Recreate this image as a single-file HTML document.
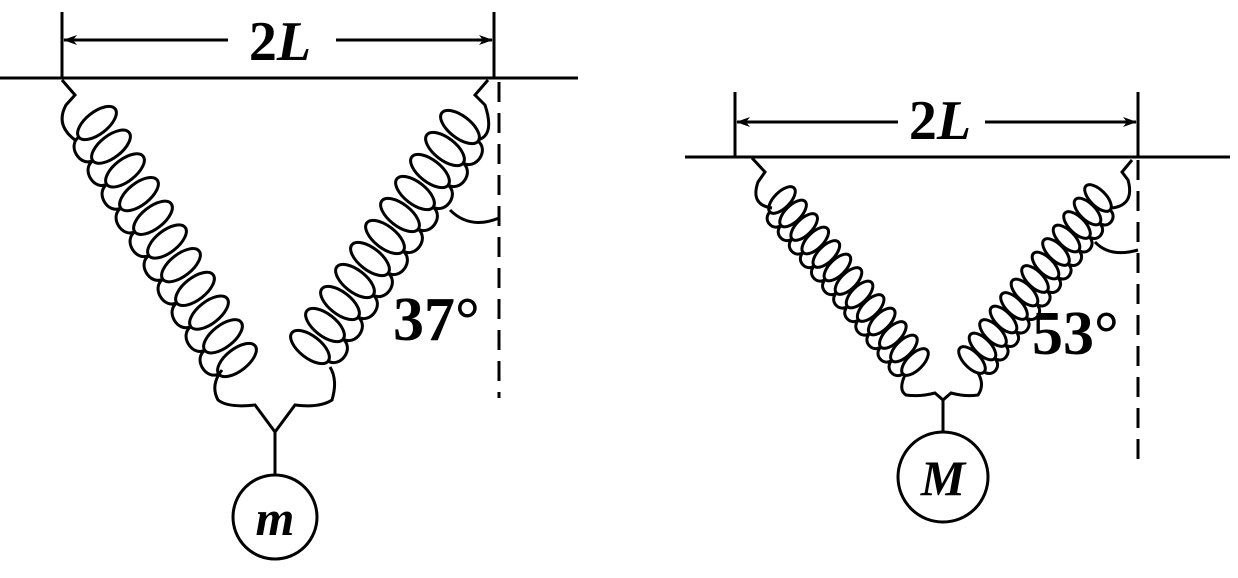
<!DOCTYPE html>
<html><head><style>body{margin:0;background:#fff}svg{display:block}</style></head><body>
<svg id="s" width="1238" height="578" viewBox="0 0 1238 578" xmlns="http://www.w3.org/2000/svg">
<defs><marker id="a" markerWidth="14" markerHeight="10" refX="13" refY="5" orient="auto" markerUnits="userSpaceOnUse"><path d="M0,0 L14,5 L0,10 L4,5Z" fill="#000"/></marker></defs>
<g stroke="#000" stroke-width="3" fill="none">
<line x1="0" y1="78" x2="578" y2="78"/>
<line x1="62" y1="12" x2="62" y2="78"/><line x1="494" y1="12" x2="494" y2="78"/>
<line x1="228" y1="40" x2="64" y2="40" marker-end="url(#a)"/><line x1="336" y1="40" x2="492" y2="40" marker-end="url(#a)"/>
<line x1="499" y1="82" x2="499" y2="398" stroke-dasharray="20,11"/>
<path d="M450,210 Q470,230 499,218"/>
<path d="M62,80 L75,95 L66,105 Q55,125 75,140"/>
<path d="M488,80 L475,95 L485,105 Q495,135 478,140"/>
<path d="M222,370 Q210,385 218,400 Q228,408 255,405 L275,432 L295,405 Q320,408 332,400 Q338,380 330,367"/>
<line x1="275" y1="432" x2="275" y2="475"/>
<circle cx="275" cy="517" r="42"/>
<line x1="685" y1="157" x2="1230" y2="157"/>
<line x1="735" y1="92" x2="735" y2="157"/><line x1="1138" y1="92" x2="1138" y2="157"/>
<line x1="898" y1="122" x2="737" y2="122" marker-end="url(#a)"/><line x1="985" y1="122" x2="1136" y2="122" marker-end="url(#a)"/>
<line x1="1138" y1="160" x2="1138" y2="468" stroke-dasharray="20,11"/>
<path d="M1095,242 Q1110,258 1138,250"/>
<path d="M752,158 L765,172 L758,182 Q750,205 772,208"/>
<path d="M1132,160 L1122,172 L1128,180 Q1135,205 1112,208"/>
<path d="M905,375 Q898,390 906,395 Q920,397 935,393 L943,400 L951,393 Q966,397 978,395 Q985,385 978,373"/>
<line x1="943" y1="400" x2="943" y2="432"/>
<circle cx="943" cy="477" r="45"/>
<g id="coils"></g>
</g>
<g font-family="Liberation Serif, serif" font-weight="bold" fill="#000">
<text x="280" y="60" font-size="56" text-anchor="middle">2<tspan font-style="italic">L</tspan></text>
<text x="940" y="139" font-size="56" text-anchor="middle">2<tspan font-style="italic">L</tspan></text>
<text x="393" y="340" font-size="62">37°</text>
<text x="1032" y="354" font-size="62">53°</text>
<text x="275" y="535" font-size="50" font-style="italic" text-anchor="middle">m</text>
<text x="943" y="495" font-size="50" font-style="italic" text-anchor="middle">M</text>
</g>
</svg>
<script>
var g=document.getElementById('coils'),ns='http://www.w3.org/2000/svg';
function spring(x1,y1,x2,y2,n,rx,ry,rot,side){var pts=[];var r=rot*Math.PI/180;
for(var i=0;i<n;i++){var t=i/(n-1),cx=x1+(x2-x1)*t,cy=y1+(y2-y1)*t,e=document.createElementNS(ns,'ellipse');
e.setAttribute('cx',cx);e.setAttribute('cy',cy);e.setAttribute('rx',rx);e.setAttribute('ry',ry);
e.setAttribute('transform','rotate('+rot+' '+cx+' '+cy+')');g.appendChild(e);
pts.push([cx-side*rx*Math.cos(r)*0.95,cy-side*rx*Math.sin(r)*0.95,cx,cy]);}
var ax=x2-x1,ay=y2-y1,al=Math.hypot(ax,ay),sx=-ay/al,sy=ax/al;
var d='';for(var i=0;i<n-1;i++){var a=pts[i],b=pts[i+1],mx=(a[0]+b[0])/2,my=(a[1]+b[1])/2;
var vx=a[0]-a[2],vy=a[1]-a[3];var sg=(vx*sx+vy*sy)>0?1:-1;var k=rx*0.7*sg;
d+='M'+a[0]+','+a[1]+' C'+(a[0]+sx*k)+','+(a[1]+sy*k)+' '+(b[0]+sx*k)+','+(b[1]+sy*k)+' '+b[0]+','+b[1]+' ';}
var p=document.createElementNS(ns,'path');p.setAttribute('d',d);g.appendChild(p);}
spring(97,123,237,360,11,23,11,-38,1);
spring(460,127,310,347,11,23,11,38,-1);
spring(782,200,915,362,13,17,8,-45,1);
spring(1098,198,972,360,13,17,8,45,-1);
</script>
</body></html>
